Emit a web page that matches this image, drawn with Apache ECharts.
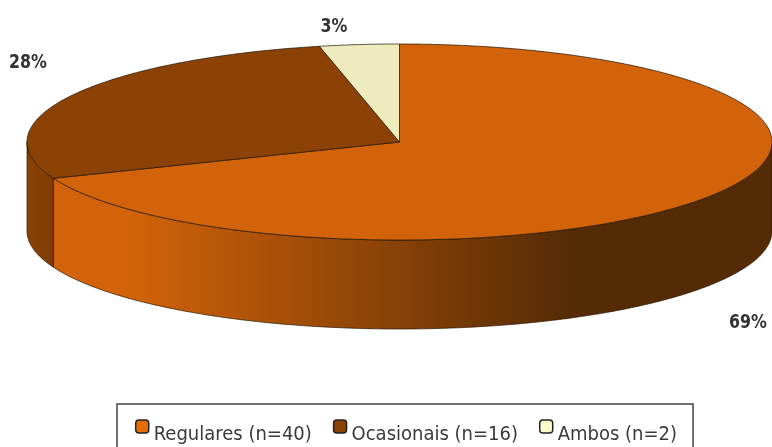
<!DOCTYPE html>
<html>
<head>
<meta charset="utf-8">
<script src="https://cdn.jsdelivr.net/npm/echarts@6/dist/echarts.min.js"></script>
<style>
html, body { margin: 0; padding: 0; background: #fff; }
#main { width: 772px; height: 447px; }
</style>
</head>
<body>
<div id="main"></div>
<script>
var categories = ['Regulares (n=40)', 'Ocasionais (n=16)', 'Ambos (n=2)'];
var counts = [40, 16, 2];
var percentLabels = ['69%', '28%', '3%'];

var fontName = '"DejaVu Sans Condensed", "Liberation Sans", sans-serif';
var total = counts.reduce(function (a, b) { return a + b; }, 0);

// pie ellipse on the page
var cx = 399.5, cy = 142, rx = 372.5, ry = 98, depth = 89;

var topColors = ['#d2630a', '#8b4204', '#eeebbc'];
var legendColors = ['#e46c04', '#8b4204', '#fdfccb'];
var labelSpots = [[748, 323], [28, 63], [334, 27]];

var wallRegulares = {
    type: 'linear', x: 130, y: 0, x2: 570, y2: 0, global: true,
    colorStops: [
        { offset: 0, color: '#d2630a' },
        { offset: 1, color: '#552b05' }
    ]
};
var wallOcasionais = {
    type: 'linear', x: 27, y: 0, x2: 53, y2: 0, global: true,
    colorStops: [
        { offset: 0, color: '#8b4204' },
        { offset: 1, color: '#7f3c03' }
    ]
};
var wallColors = [wallRegulares, wallOcasionais, '#d8d5a8'];

// angle is measured clockwise from 12 o'clock
function rim(angle, drop) {
    return [cx + rx * Math.sin(angle), cy - ry * Math.cos(angle) + drop];
}

function arc(a0, a1, drop) {
    var pts = [];
    var steps = Math.max(2, Math.ceil(Math.abs(a1 - a0) / 0.01));
    for (var i = 0; i <= steps; i++) {
        pts.push(rim(a0 + (a1 - a0) * i / steps, drop));
    }
    return pts;
}

function sliceStart(index) {
    var before = 0;
    for (var i = 0; i < index; i++) before += counts[i];
    return before / total * Math.PI * 2;
}

function makeRender(index) {
    return function () {
        var a0 = sliceStart(index);
        var a1 = a0 + counts[index] / total * Math.PI * 2;
        var children = [];

        // only the front half of the rim shows a wall
        var w0 = Math.max(a0, Math.PI / 2);
        var w1 = Math.min(a1, Math.PI * 1.5);
        if (w1 > w0) {
            children.push({
                type: 'polygon',
                shape: { points: arc(w0, w1, 0).concat(arc(w1, w0, depth)) },
                style: { fill: wallColors[index], stroke: '#2a1502', lineWidth: 0.7 }
            });
        }

        children.push({
            type: 'polygon',
            shape: { points: [[cx, cy]].concat(arc(a0, a1, 0)) },
            style: { fill: topColors[index], stroke: '#1e1206', lineWidth: 0.7 }
        });

        // label font is narrower than anything installed, so squeeze it a bit
        children.push({
            type: 'text',
            x: labelSpots[index][0],
            y: labelSpots[index][1],
            scaleX: 0.88,
            style: {
                x: 0,
                y: 0,
                text: percentLabels[index],
                font: 'bold 20px ' + fontName,
                fill: '#333',
                align: 'center',
                verticalAlign: 'middle'
            }
        });

        return { type: 'group', children: children };
    };
}

var series = categories.map(function (name, i) {
    return {
        type: 'custom',
        name: name,
        coordinateSystem: 'none',
        silent: true,
        itemStyle: { color: topColors[i] },
        renderItem: makeRender(i),
        data: [counts[i]]
    };
});

var option = {
    animation: false,
    backgroundColor: '#fff',
    legend: {
        data: categories.map(function (name, i) {
            return { name: name, itemStyle: { color: legendColors[i] } };
        }),
        left: 117,
        top: 404,
        orient: 'horizontal',
        icon: 'roundRect',
        itemWidth: 13,
        itemHeight: 13,
        itemGap: 21,
        padding: [12, 16, 20, 18],
        borderColor: '#444',
        borderWidth: 1.5,
        backgroundColor: '#fff',
        itemStyle: { borderColor: '#222', borderWidth: 1.5 },
        // text sits lower than the swatch in the original, an empty first line pushes it down
        formatter: function (name) {
            return '{gap| }\n{t|' + name + '}';
        },
        textStyle: {
            rich: {
                gap: { height: 16, fontSize: 1 },
                t: { fontFamily: fontName, fontSize: 20, color: '#3a3a3a' }
            }
        }
    },
    series: series
};

var myChart = echarts.init(document.getElementById('main'));
myChart.setOption(option);
</script>
</body>
</html>
